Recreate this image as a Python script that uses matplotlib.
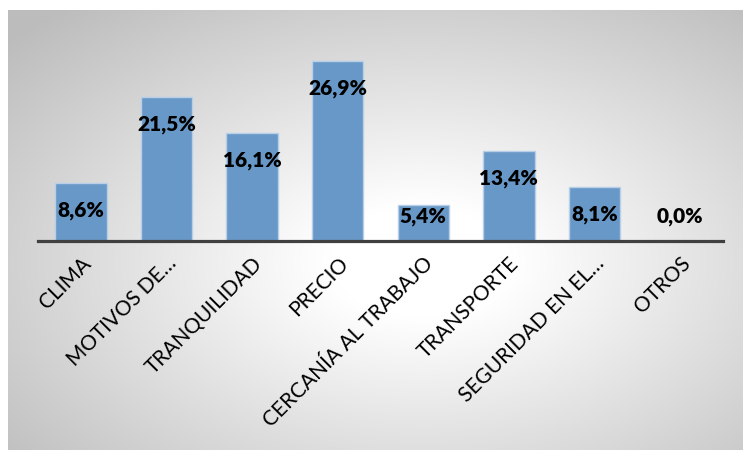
import numpy as np
import matplotlib
matplotlib.use("Agg")
import matplotlib.pyplot as plt

categories = ["CLIMA", "MOTIVOS DE…", "TRANQUILIDAD", "PRECIO",
              "CERCANÍA AL TRABAJO", "TRANSPORTE", "SEGURIDAD EN EL…", "OTROS"]
values = [8.6, 21.5, 16.1, 26.9, 5.4, 13.4, 8.1, 0.0]
value_labels = ["8,6%", "21,5%", "16,1%", "26,9%", "5,4%", "13,4%", "8,1%", "0,0%"]

plt.rcParams['font.family'] = ['Lato', 'DejaVu Sans']

W, H = 743, 450
fig = plt.figure(figsize=(W / 100, H / 100), dpi=100)
fig.patch.set_facecolor("white")

# radial grey-to-white background panel
bg = fig.add_axes([8 / W, 0, 1 - 8 / W, 1 - 10 / H])
bg.set_axis_off()
ny, nx = 220, 370
yy, xx = np.mgrid[0:ny, 0:nx]
cx, cy = nx * 0.56, ny * 0.57
d = np.sqrt(((xx - cx) / (nx / 2)) ** 2 + ((yy - cy) / (ny / 2)) ** 2)
t = np.clip((d - 0.25) / (1.5 - 0.25), 0, 1)
shade = 1.0 - 0.26 * t
img = np.dstack([shade, shade, shade])
bg.imshow(img, aspect="auto", extent=[0, 1, 0, 1], interpolation="bilinear")

# plot area: baseline at y=241 px, x from 38 to 723 px
left, right = 38 / W, 723 / W
bottom = 1 - 241 / H
top = 1 - 30 / H
ax = fig.add_axes([left, bottom, right - left, top - bottom])
ax.patch.set_alpha(0)
ymax = (241 - 30) / 6.69
ax.set_ylim(0, ymax)
x = np.arange(len(categories))
ax.set_xlim(-0.5, len(categories) - 0.5)
ax.bar(x, values, width=0.6, color="#6898C7", edgecolor="#B8CFE8", linewidth=1.0, zorder=2)

for xi, v, lab in zip(x, values, value_labels):
    ypos = max(v - 4.1, 3.6)
    ax.text(xi, ypos, lab, ha="center", va="center", fontsize=15,
            fontweight="heavy", color="black", zorder=3)

for s in ["top", "right", "left"]:
    ax.spines[s].set_visible(False)
ax.spines["bottom"].set_color("#404040")
ax.spines["bottom"].set_linewidth(2.3)
ax.set_yticks([])
ax.set_xticks(x)
ax.set_xticklabels(categories, rotation=45, ha="right", rotation_mode="anchor",
                   fontsize=15, color="black")
ax.tick_params(axis="x", length=0, pad=9)

fig.savefig("out.png", dpi=100)
